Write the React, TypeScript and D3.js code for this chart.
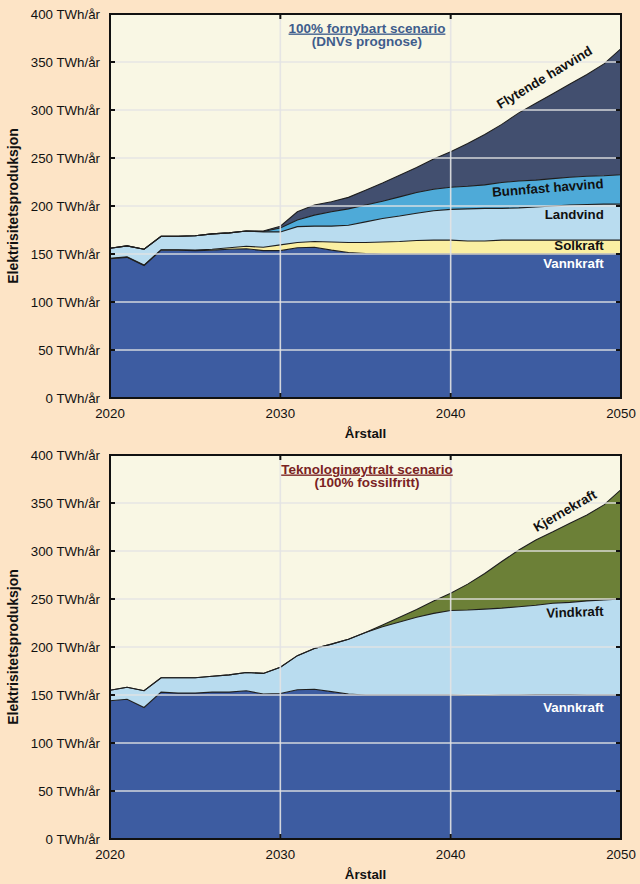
import React from 'react';
import * as d3 from 'd3';

const YEARS = [2020, 2021, 2022, 2023, 2024, 2025, 2026, 2027, 2028, 2029, 2030, 2031, 2032, 2033, 2034, 2035, 2036, 2037, 2038, 2039, 2040, 2041, 2042, 2043, 2044, 2045, 2046, 2047, 2048, 2049, 2050];
const X_TICKS = [2020, 2030, 2040, 2050];
const Y_TICKS = [0, 50, 100, 150, 200, 250, 300, 350, 400];
const Y_TICK_LABELS = ['0 TWh/år', '50 TWh/år', '100 TWh/år', '150 TWh/år', '200 TWh/år', '250 TWh/år', '300 TWh/år', '350 TWh/år', '400 TWh/år'];

// Panel A: 100% fornybart scenario (TWh/år per source)
const VANNKRAFT_A = [145, 146.5, 138, 154, 154, 153.5, 154, 155, 155.5, 153.5, 153.5, 156.5, 157, 154, 151.5, 150.5, 150, 150, 150, 150, 150, 150, 150, 150, 150, 150, 150, 150, 150, 150, 150];
const SOLKRAFT_A = [0.5, 0.5, 0.5, 0.5, 0.5, 0.5, 1, 1.5, 2.5, 3.5, 6, 5.5, 6, 8.5, 10.5, 11.5, 12.5, 13, 14, 14.5, 14.5, 13.5, 13.5, 14.5, 14.5, 14.5, 14.5, 14.5, 14.5, 14.5, 14.5];
const LANDVIND_A = [10.5, 11.5, 16.5, 14, 14, 15, 16, 15.5, 16, 16, 13.5, 16.5, 16, 16.5, 18, 21.5, 24.5, 26.5, 28.5, 30.5, 32, 33.5, 34, 33, 33.5, 34.5, 35.5, 36.5, 37, 37.5, 37.5];
const BUNNFAST_A = [0, 0, 0, 0, 0, 0, 0, 0, 0, 0.5, 4, 7, 11.5, 15, 17, 17.5, 18, 20, 21.5, 22.5, 23, 23.5, 24.5, 27, 28, 28, 28.5, 29, 29.5, 29.5, 30.5];
const FLYTENDE_A = [0, 0, 0, 0, 0, 0, 0, 0, 0, 0.5, 2, 8.5, 10.5, 10.5, 12, 15.5, 19, 22.5, 26, 31.5, 37, 44.5, 52.5, 60.5, 71, 80, 88.5, 97, 106, 116.5, 131.5];

// Panel B: Teknologinøytralt scenario
const VANNKRAFT_B = [144, 145.5, 137, 153, 152, 152, 153, 153, 154.5, 151, 151.5, 155.5, 156, 153.5, 151, 150, 150, 150, 150, 150, 150, 149.5, 149.5, 150, 150, 150.5, 150.5, 150.5, 150, 150, 150];
const VINDKRAFT_B = [11, 12.5, 17.5, 15, 16, 16, 16.5, 18, 19, 21.5, 27.5, 35.5, 42.5, 49.5, 57, 65, 71, 76, 81, 85, 88, 89, 90, 90.5, 92, 93, 95, 96, 98, 99, 100];
const KJERNEKRAFT_B = [0, 0, 0, 0, 0, 0, 0, 0, 0, 0, 0, 0, 0, 0, 0, 0, 2, 5, 8, 13, 18, 27, 37, 48.5, 59, 68, 74.5, 82.5, 89.5, 99, 114];

const FONT = '"Liberation Sans", Arial, Helvetica, sans-serif';
const BG = '#fde4c6';
const PLOT_BG = '#f9f7e4';
const X0 = 110;
const X1 = 621;
const PLOT_H = 384;

type Series = { key: string; values: number[]; color: string };
type Label = {
  text: string;
  year: number;
  value: number;
  anchor: 'start' | 'middle' | 'end';
  rotate: number;
  color: string;
  dy?: string;
};

function Panel(props: {
  top: number;
  series: Series[];
  title: string;
  subtitle: string;
  titleColor: string;
  labels: Label[];
  clipId: string;
}) {
  const { top, series, title, subtitle, titleColor, labels, clipId } = props;
  const bottom = top + PLOT_H;
  const x = d3.scaleLinear().domain([2020, 2050]).range([X0, X1]);
  const y = d3.scaleLinear().domain([0, 400]).range([bottom, top]);

  const rows = YEARS.map((year, i) => {
    const r: any = { year };
    series.forEach((s) => (r[s.key] = s.values[i]));
    return r;
  });
  const stack = d3.stack<any>().keys(series.map((s) => s.key));
  const stacked = stack(rows);

  const area = d3
    .area<any>()
    .x((d) => x(d.data.year))
    .y0((d) => y(d[0]))
    .y1((d) => y(d[1]));
  const line = d3
    .line<any>()
    .x((d) => x(d.data.year))
    .y((d) => y(d[1]));

  const gridY = Y_TICKS.filter((v) => v > 0 && v < 400);
  const gridX = X_TICKS.filter((v) => v > 2020 && v < 2050);
  const midX = (X0 + X1) / 2;

  return (
    <g>
      <defs>
        <clipPath id={clipId}>
          <rect x={X0} y={top} width={X1 - X0} height={PLOT_H} />
        </clipPath>
      </defs>
      <rect x={X0} y={top} width={X1 - X0} height={PLOT_H} fill={PLOT_BG} />
      <g clipPath={`url(#${clipId})`}>
        {stacked.map((layer, i) => (
          <path key={layer.key} d={area(layer) || ''} fill={series[i].color} />
        ))}
        {stacked.map((layer) => (
          <path key={'l' + layer.key} d={line(layer) || ''} fill="none" stroke="#1e1e1e" strokeWidth={1.1} />
        ))}
        {gridY.map((v) => (
          <line key={'gy' + v} x1={X0} x2={X1} y1={y(v)} y2={y(v)} stroke="#e4e4e4" strokeWidth={1.6} opacity={0.9} />
        ))}
        {gridX.map((v) => (
          <line key={'gx' + v} x1={x(v)} x2={x(v)} y1={top} y2={bottom} stroke="#e4e4e4" strokeWidth={1.6} opacity={0.9} />
        ))}
      </g>
      {/* ticks */}
      {gridY.map((v) => (
        <g key={'t' + v}>
          <line x1={X0} x2={X0 + 5} y1={y(v)} y2={y(v)} stroke="#111" strokeWidth={2} />
          <line x1={X1 - 5} x2={X1} y1={y(v)} y2={y(v)} stroke="#111" strokeWidth={2} />
        </g>
      ))}
      {gridX.map((v) => (
        <g key={'tx' + v}>
          <line x1={x(v)} x2={x(v)} y1={top} y2={top + 5} stroke="#111" strokeWidth={2} />
          <line x1={x(v)} x2={x(v)} y1={bottom - 5} y2={bottom} stroke="#111" strokeWidth={2} />
        </g>
      ))}
      <rect x={X0} y={top} width={X1 - X0} height={PLOT_H} fill="none" stroke="#111" strokeWidth={2} />

      {/* y tick labels */}
      {Y_TICKS.map((v, i) => (
        <text key={'yl' + v} x={X0 - 10} y={y(v)} dy="0.35em" textAnchor="end" fontSize={13.3} fontFamily={FONT} fill="#111">
          {Y_TICK_LABELS[i]}
        </text>
      ))}
      {/* x tick labels */}
      {X_TICKS.map((v) => (
        <text key={'xl' + v} x={x(v)} y={bottom + 20} textAnchor="middle" fontSize={13.3} fontFamily={FONT} fill="#111">
          {v}
        </text>
      ))}
      <text x={midX} y={bottom + 40} textAnchor="middle" fontSize={13.3} fontWeight="bold" fontFamily={FONT} fill="#111">
        Årstall
      </text>
      <text
        transform={`translate(18,${(top + bottom) / 2}) rotate(-90)`}
        textAnchor="middle"
        fontSize={14}
        fontWeight="bold"
        fontFamily={FONT}
        fill="#111"
      >
        Elektrisitetsproduksjon
      </text>

      {/* title */}
      <text x={367} y={top + 18.5} textAnchor="middle" fontSize={13.5} fontWeight="bold" fontFamily={FONT} fill={titleColor} style={{ textDecoration: 'underline' }}>
        {title}
      </text>
      <text x={367} y={top + 32} textAnchor="middle" fontSize={13.5} fontWeight="bold" fontFamily={FONT} fill={titleColor}>
        {subtitle}
      </text>

      {/* series labels */}
      {labels.map((l) => (
        <text
          key={l.text}
          transform={`translate(${x(l.year)},${y(l.value)}) rotate(${l.rotate})`}
          dy={l.dy || '0'}
          textAnchor={l.anchor}
          fontSize={13.3}
          fontWeight="bold"
          fontFamily={FONT}
          fill={l.color}
        >
          {l.text}
        </text>
      ))}
    </g>
  );
}

export default function App() {
  const seriesA: Series[] = [
    { key: 'Vannkraft', values: VANNKRAFT_A, color: '#3d5ca1' },
    { key: 'Solkraft', values: SOLKRAFT_A, color: '#faefa2' },
    { key: 'Landvind', values: LANDVIND_A, color: '#b9dcef' },
    { key: 'Bunnfast havvind', values: BUNNFAST_A, color: '#4eaad8' },
    { key: 'Flytende havvind', values: FLYTENDE_A, color: '#424f6f' },
  ];
  const seriesB: Series[] = [
    { key: 'Vannkraft', values: VANNKRAFT_B, color: '#3d5ca1' },
    { key: 'Vindkraft', values: VINDKRAFT_B, color: '#b9dcef' },
    { key: 'Kjernekraft', values: KJERNEKRAFT_B, color: '#6c8037' },
  ];
  const labelsA: Label[] = [
    { text: 'Flytende havvind', year: 2045.5, value: 334, anchor: 'middle', rotate: -31, color: '#111', dy: '0.35em' },
    { text: 'Bunnfast havvind', year: 2045.7, value: 219, anchor: 'middle', rotate: -4.5, color: '#111', dy: '0.35em' },
    { text: 'Landvind', year: 2048.99, value: 186.5, anchor: 'end', rotate: 0, color: '#111' },
    { text: 'Solkraft', year: 2048.99, value: 154, anchor: 'end', rotate: 0, color: '#111' },
    { text: 'Vannkraft', year: 2048.99, value: 135, anchor: 'end', rotate: 0, color: '#ffffff' },
  ];
  const labelsB: Label[] = [
    { text: 'Kjernekraft', year: 2046.7, value: 342, anchor: 'middle', rotate: -30, color: '#111', dy: '0.35em' },
    { text: 'Vindkraft', year: 2048.99, value: 232.5, anchor: 'end', rotate: -2, color: '#111' },
    { text: 'Vannkraft', year: 2048.99, value: 132.5, anchor: 'end', rotate: 0, color: '#ffffff' },
  ];

  return (
    <svg width={640} height={884} style={{ position: 'absolute', left: 0, top: 0, display: 'block' }}>
      <rect x={0} y={0} width={640} height={884} fill={BG} />
      <Panel
        top={14}
        series={seriesA}
        title="100% fornybart scenario"
        subtitle="(DNVs prognose)"
        titleColor="#3f5d8c"
        labels={labelsA}
        clipId="clipA"
      />
      <Panel
        top={455}
        series={seriesB}
        title="Teknologinøytralt scenario"
        subtitle="(100% fossilfritt)"
        titleColor="#7a2222"
        labels={labelsB}
        clipId="clipB"
      />
    </svg>
  );
}
